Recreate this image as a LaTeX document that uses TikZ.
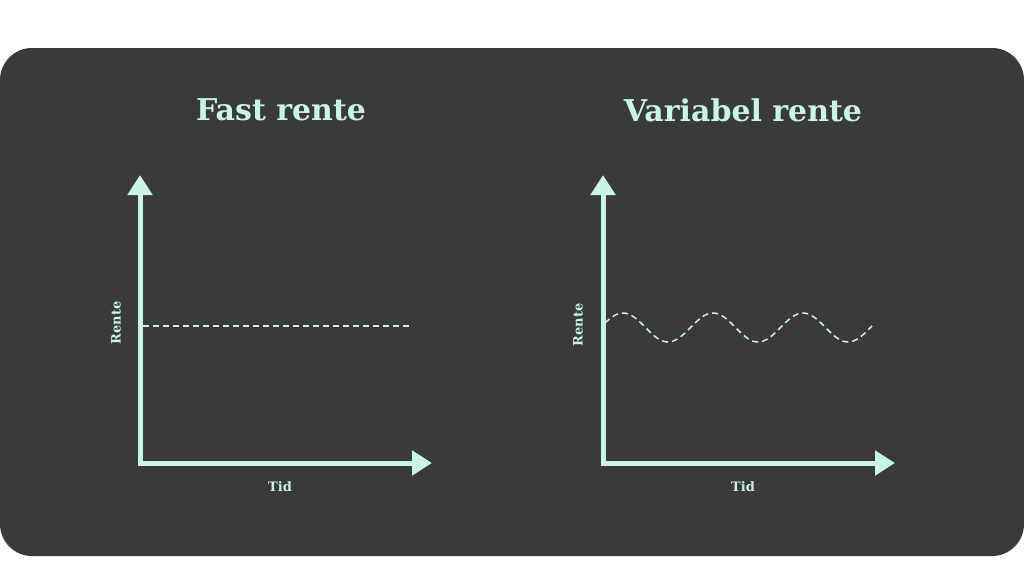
\documentclass[tikz,border=0pt]{standalone}
\usepackage{fontspec}
\setmainfont{DejaVu Serif}
\usetikzlibrary{arrows.meta}
\definecolor{bg}{HTML}{3A3A3A}
\definecolor{mint}{HTML}{C8F5E4}
\begin{document}
\begin{tikzpicture}[x=1pt,y=-1pt,
  axis/.style={mint,line width=5pt,-{Triangle[length=20pt,width=24pt]}},
  title/.style={text=mint,font=\bfseries\fontsize{30}{34}\selectfont},
  lab/.style={text=mint,font=\bfseries\fontsize{13}{15}\selectfont},
  curve/.style={mint,line width=1.5pt,dash pattern=on 6pt off 4pt}]
\useasboundingbox (0,0) rectangle (1024,576);
\fill[white] (0,0) rectangle (1024,576);
\fill[bg,rounded corners=32pt] (0,48) rectangle (1024,556);
% left
\node[title] (t1) at (281,110) {Fast rente};
\coordinate (o1) at (140,463);
\coordinate (y1) at (140,175);
\coordinate (x1) at (432,463);
\draw[axis] ([yshift=2.5pt]o1) -- (y1);
\draw[axis] ([xshift=-2.5pt]o1) -- (x1);
\coordinate (d1a) at (143,326);
\coordinate (d1b) at (410,326);
\draw[curve] (d1a) -- (d1b);
\node[lab,rotate=90] (r1) at (116,323) {Rente};
\node[lab] (tid1) at (280,487) {Tid};
% right
\node[title] (t2) at (743,110) {Variabel rente};
\coordinate (o2) at (603,463);
\coordinate (y2) at (603,175);
\coordinate (x2) at (895,463);
\draw[axis] ([yshift=2.5pt]o2) -- (y2);
\draw[axis] ([xshift=-2.5pt]o2) -- (x2);
\draw[curve] plot[domain=605:872,samples=120,smooth] (\x,{327.5-14.5*cos((\x-623)*4)});
\node[lab,rotate=90] (r2) at (578,325) {Rente};
\node[lab] (tid2) at (743,487) {Tid};
\end{tikzpicture}
\end{document}
